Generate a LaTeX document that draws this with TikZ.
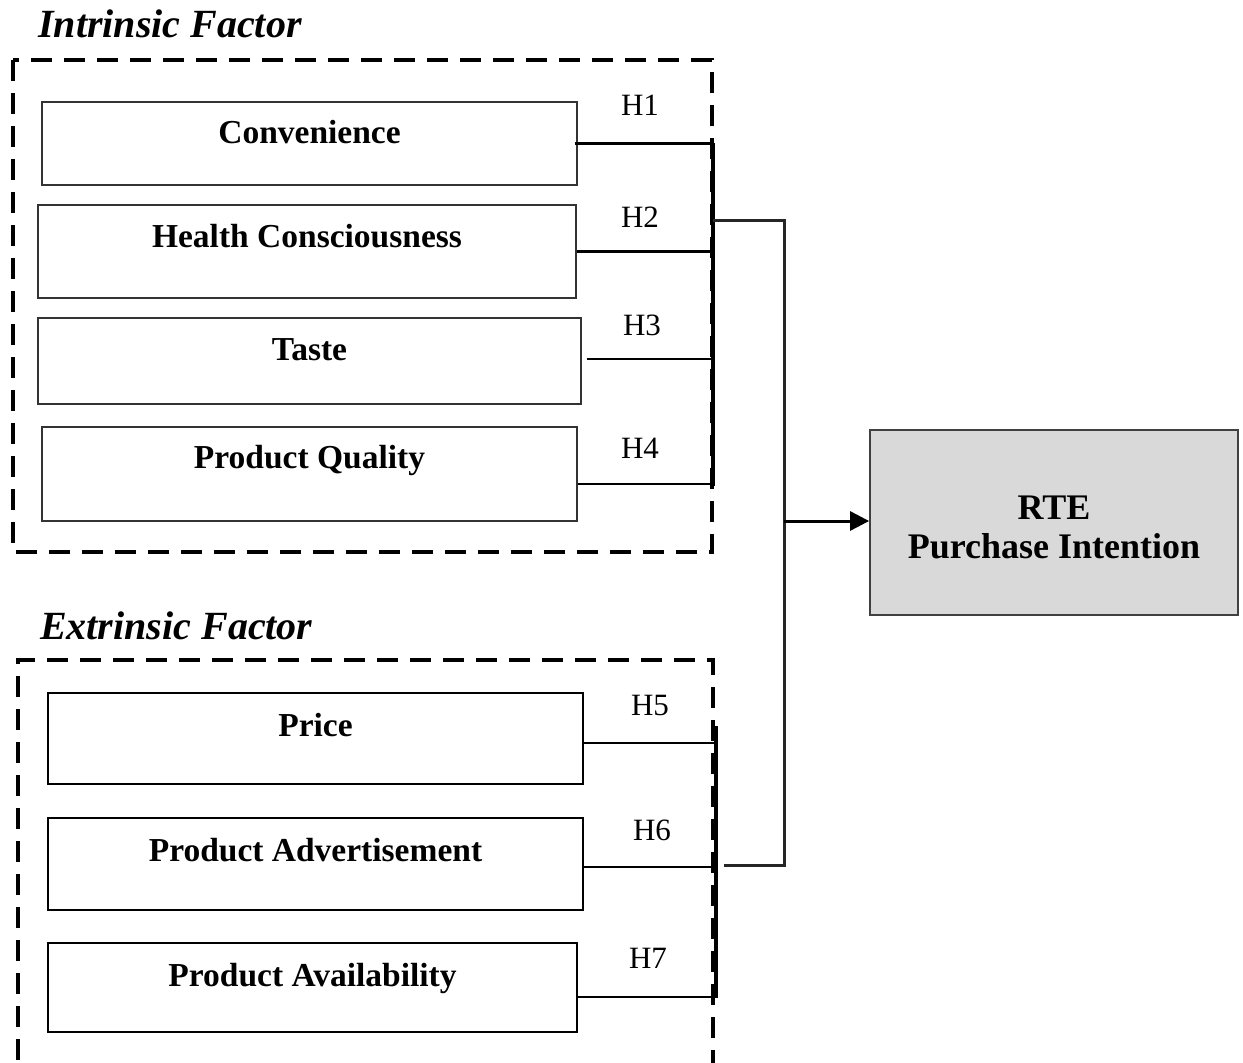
\documentclass[tikz,border=0pt]{standalone}
\usepackage{fontspec}
\setmainfont{Liberation Serif}
\usetikzlibrary{arrows.meta}
\begin{document}
\begin{tikzpicture}[x=1pt,y=-1pt,
  groupframe/.style={draw, line width=3.4pt, dash pattern=on 21pt off 12pt},
  grouptitle/.style={anchor=base west, inner sep=0pt,
    font=\fontsize{40}{46}\selectfont\bfseries\itshape},
  inbox/.style={draw=black!80, line width=1.7pt, inner sep=0pt, text height=0pt,
    font=\fontsize{33.5}{40}\selectfont\bfseries},
  exbox/.style={inbox, draw=black, line width=2.9pt},
  hyp/.style={anchor=base, inner sep=0pt, font=\fontsize{31}{36}\selectfont},
  link/.style={line width=2.7pt},
  bus/.style={line width=3.8pt},
  outcome/.style={draw=black!75, line width=1.8pt, fill=black!15},
  outtext/.style={anchor=base, inner sep=0pt, font=\fontsize{36}{42}\selectfont\bfseries}
]
\useasboundingbox (0,0) rectangle (1243,1063);

% group frames and titles
\node[grouptitle] (intitle) at (38,37) {Intrinsic Factor};
\draw[groupframe] (13,60) rectangle (712,552);
\node[grouptitle] (extitle) at (40,639) {Extrinsic Factor};
\draw[groupframe] (18,1060) -- (18,660) -- (713,660) -- (713,1063);

% intrinsic factors
\node[inbox, minimum width=535pt, minimum height=83pt, text depth=0pt] (conv) at (309.5,143.5) {Convenience};
\node[inbox, minimum width=538pt, minimum height=93pt, text depth=9pt] (health) at (307,251.5) {Health Consciousness};
\node[inbox, minimum width=543pt, minimum height=86pt, text depth=2pt] (taste) at (309.5,361) {Taste};
\node[inbox, minimum width=535pt, minimum height=94pt, text depth=12pt] (quality) at (309.5,474) {Product Quality};

% extrinsic factors
\node[exbox, minimum width=535pt, minimum height=91pt, text depth=5pt] (price) at (315.5,738.5) {Price};
\node[exbox, minimum width=535pt, minimum height=92pt, text depth=6pt] (advert) at (315.5,864) {Product Advertisement};
\node[exbox, minimum width=529pt, minimum height=89pt, text depth=3pt] (avail) at (312.5,987.5) {Product Availability};

% outcome
\node[outcome, minimum width=368pt, minimum height=185pt] (rte) at (1054,522.5) {};
\node[outtext] (rteA) at (1054,519) {RTE};
\node[outtext] (rteB) at (1054,558) {Purchase Intention};

% hypothesis labels
\node[hyp] (h1) at (640,115) {H1};
\node[hyp] (h2) at (640,227) {H2};
\node[hyp] (h3) at (642,335) {H3};
\node[hyp] (h4) at (640,458) {H4};
\node[hyp] (h5) at (650,715) {H5};
\node[hyp] (h6) at (652,840) {H6};
\node[hyp] (h7) at (648,968) {H7};

% collector buses
\coordinate (busI) at (713,143);
\coordinate (busIend) at (713,486);
\coordinate (busE) at (716,726);
\coordinate (busEend) at (716,998);
\coordinate (outI) at (713,220);
\coordinate (outE) at (724,865);
\coordinate (join) at (784,521);

\draw[bus] (busI) -- (busIend);
\draw[bus] (busE) -- (busEend);

% factor links
\draw[link] ([xshift=-3pt]conv.east) -- (conv.east -| busI);
\draw[link] (health.east) -- (health.east -| busI);
\draw[link] ([xshift=5pt,yshift=2pt]taste.east) -- ([yshift=2pt]taste.east -| busI);
\draw[link] ([yshift=-10pt]quality.east) -- ([yshift=-10pt]quality.east -| busI);
\draw[link] ([yshift=-4.5pt]price.east) -- ([yshift=-4.5pt]price.east -| busE);
\draw[link] ([yshift=-3pt]advert.east) -- ([yshift=-3pt]advert.east -| busE);
\draw[link] ([yshift=-9.5pt]avail.east) -- ([yshift=-9.5pt]avail.east -| busE);

% joined path to the outcome
\draw[link, draw=black!85, line width=3pt] (outI) -| (join) |- (outE);
\draw[link, line width=3pt, -{Triangle[length=19pt,width=19pt]}] (join) -- (join -| rte.west);
\end{tikzpicture}
\end{document}
